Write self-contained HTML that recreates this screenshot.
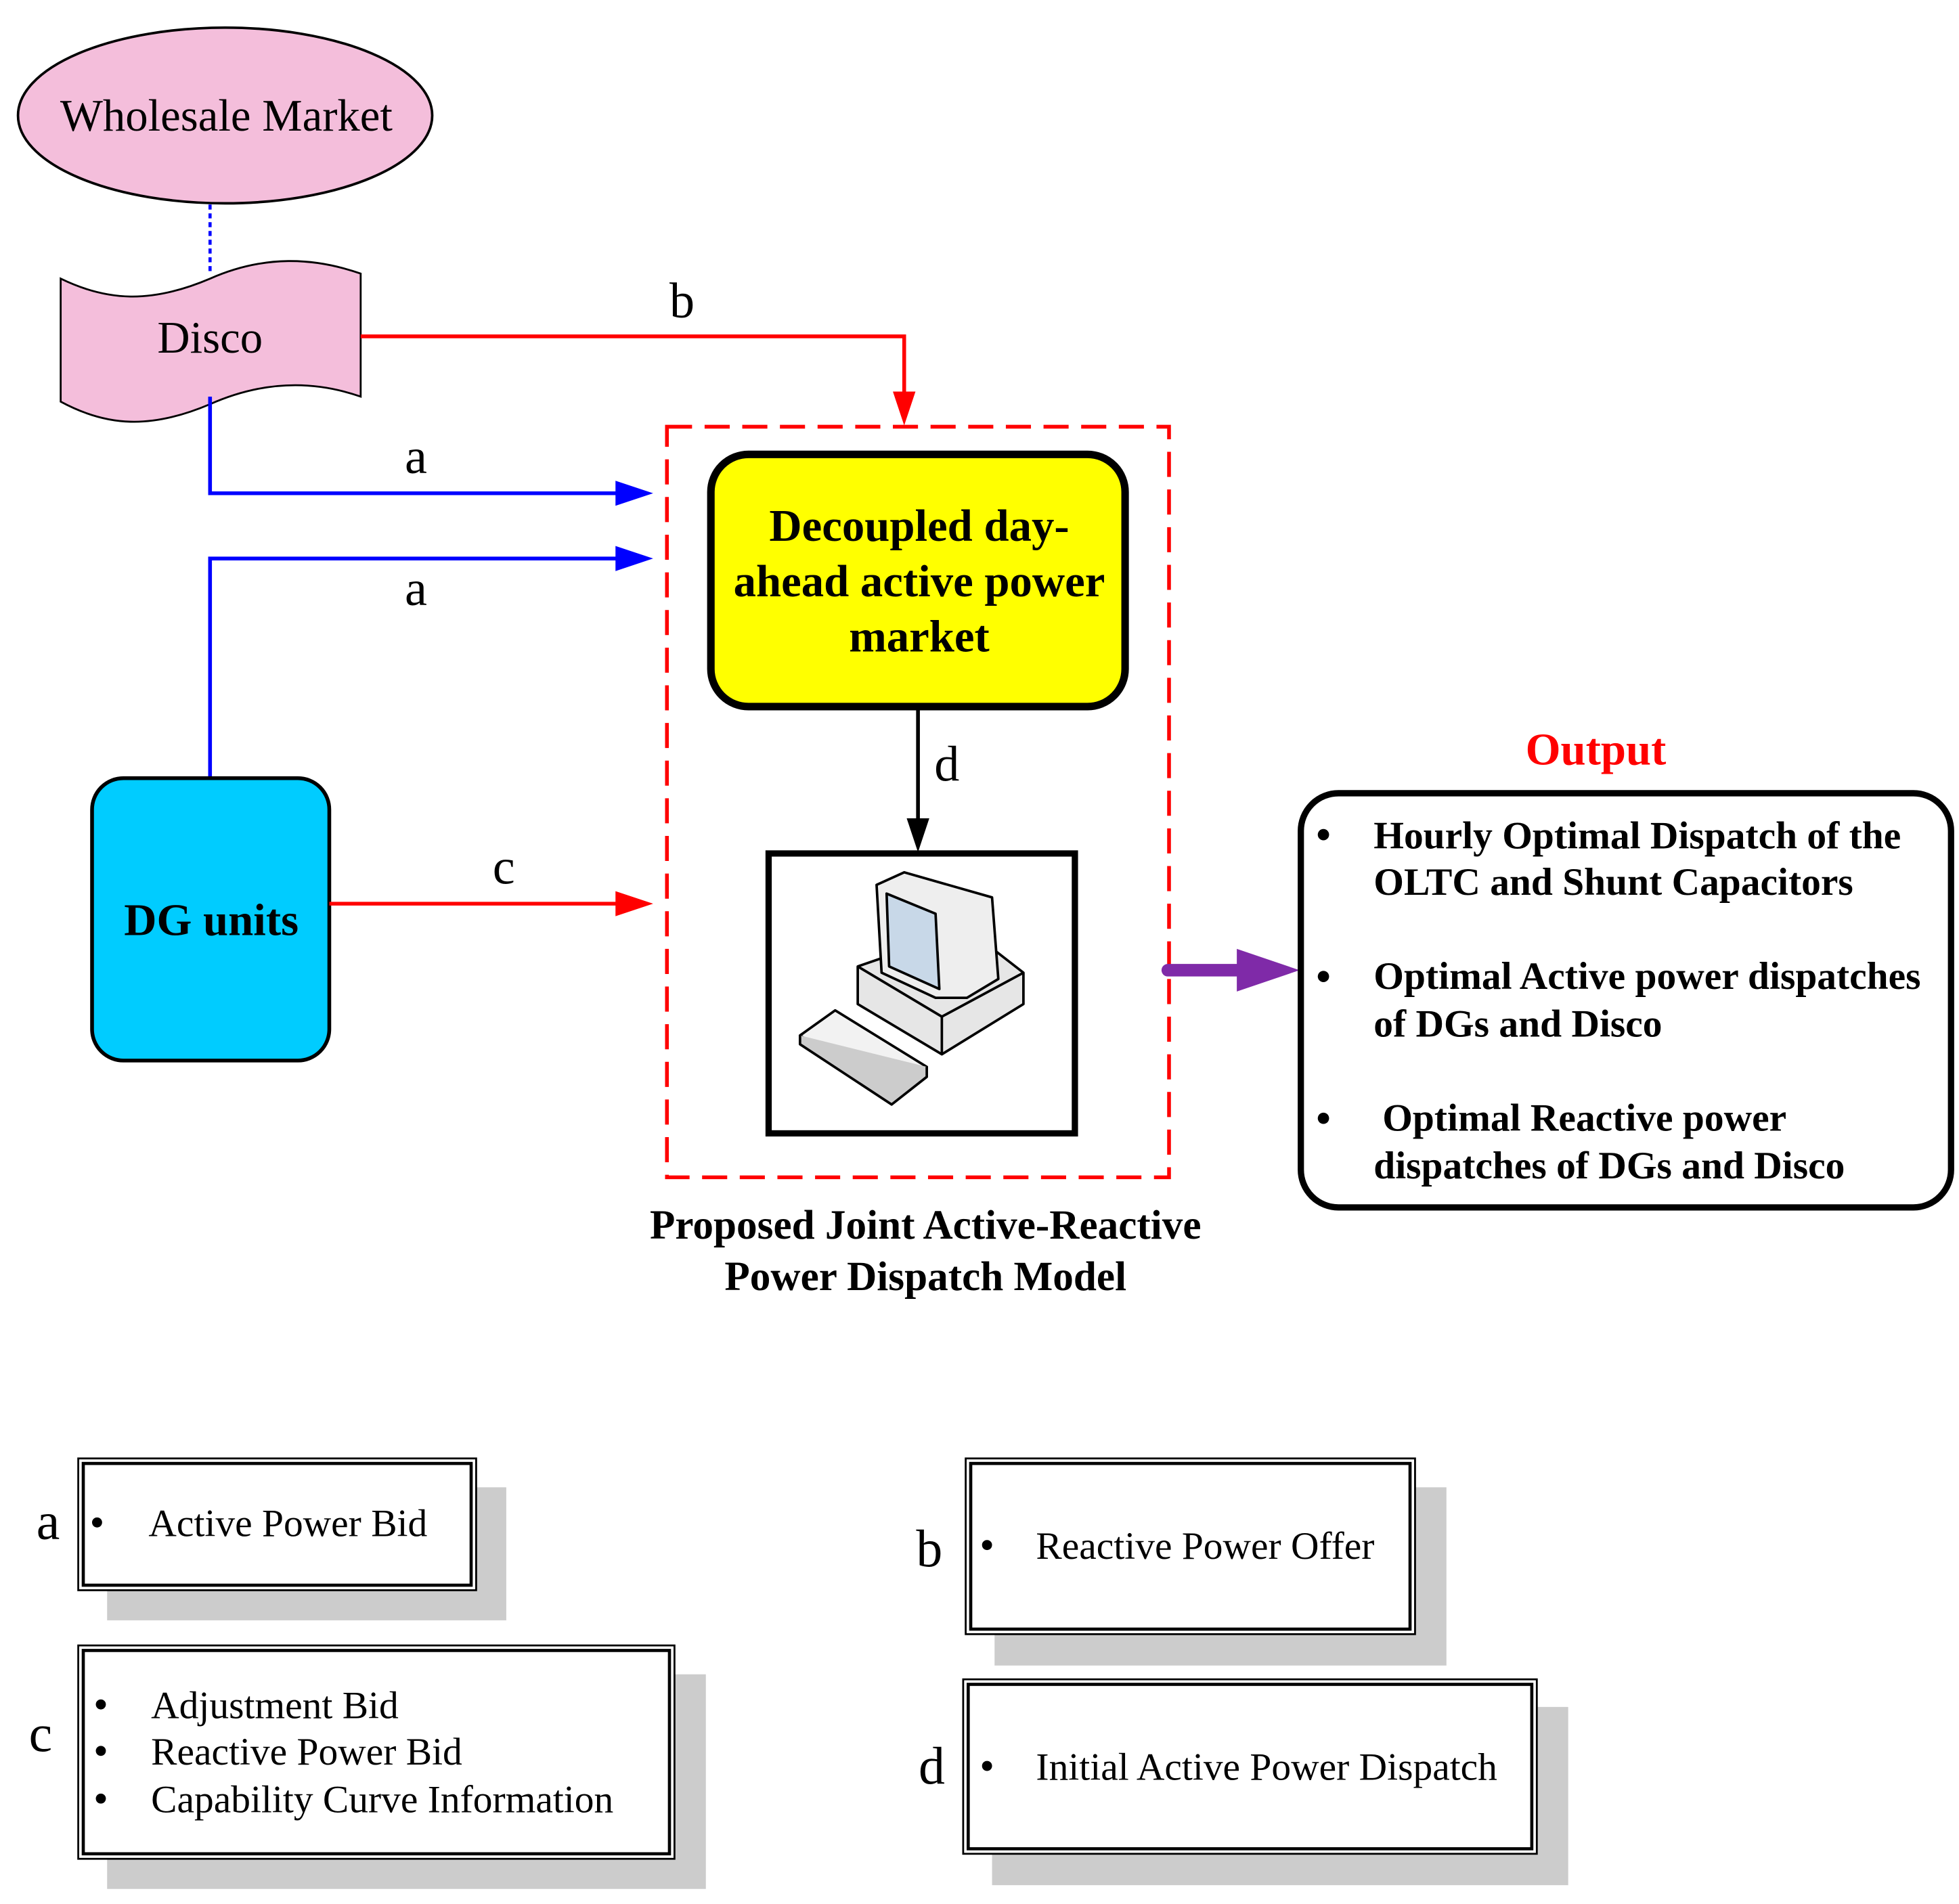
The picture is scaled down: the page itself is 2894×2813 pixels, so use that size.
<!DOCTYPE html>
<html><head><meta charset="utf-8"><style>html,body{margin:0;padding:0;background:#fff}svg{display:block}svg text{font-family:"Liberation Serif","Times New Roman",serif}</style></head>
<body>
<svg width="2894" height="2813" viewBox="0 0 1560 1517" xmlns="http://www.w3.org/2000/svg">
<rect width="1560" height="1517" fill="#fff"/>
<ellipse cx="179" cy="92" rx="165" ry="70" fill="#F4BEDB" stroke="#000" stroke-width="2"/>
<text x="180" y="104" font-size="36" text-anchor="middle">Wholesale Market</text>
<line x1="167" y1="163" x2="167" y2="218" stroke="#0000ff" stroke-width="2.5" stroke-dasharray="4,3"/>
<path d="M48,222 C85,240 120,242 167,222 C210,203 250,205 287,218 L287,316 C250,303 210,303 167,322 C120,342 85,340 48,320 Z" fill="#F4BEDB" stroke="#000" stroke-width="1.5"/>
<text x="167" y="281" font-size="36" text-anchor="middle">Disco</text>
<polyline points="287,268 720,268 720,318" fill="none" stroke="#ff0000" stroke-width="3"/>
<path d="M711,312 L729,312 L720,339 Z" fill="#ff0000"/>
<text x="543" y="253" font-size="40" text-anchor="middle">b</text>
<polyline points="167,316 167,393 495,393" fill="none" stroke="#0000ff" stroke-width="3"/>
<path d="M490,383 L520,393 L490,403 Z" fill="#0000ff"/>
<text x="331" y="377" font-size="40" text-anchor="middle">a</text>
<polyline points="167,620 167,445 495,445" fill="none" stroke="#0000ff" stroke-width="3"/>
<path d="M490,435 L520,445 L490,455 Z" fill="#0000ff"/>
<text x="331" y="482" font-size="40" text-anchor="middle">a</text>
<rect x="73" y="620" width="189" height="225" rx="25" fill="#00CCFF" stroke="#000" stroke-width="3"/>
<text x="168" y="745" font-size="36" font-weight="bold" text-anchor="middle">DG units</text>
<line x1="262" y1="720" x2="495" y2="720" stroke="#ff0000" stroke-width="3"/>
<path d="M490,710 L520,720 L490,730 Z" fill="#ff0000"/>
<text x="401" y="704" font-size="40" text-anchor="middle">c</text>
<rect x="531" y="340" width="400" height="598" fill="none" stroke="#ff0000" stroke-width="3" stroke-dasharray="20,10"/>
<rect x="566" y="362" width="330" height="201" rx="30" fill="#ffff00" stroke="#000" stroke-width="6"/>
<g font-size="36" font-weight="bold" text-anchor="middle">
<text x="732" y="431">Decoupled day-</text>
<text x="732" y="475">ahead active power</text>
<text x="732" y="519">market</text>
</g>
<line x1="731" y1="563" x2="731" y2="655" stroke="#000" stroke-width="3"/>
<path d="M722,652 L740,652 L731,679 Z" fill="#000"/>
<text x="754" y="622" font-size="40" text-anchor="middle">d</text>
<rect x="612" y="680" width="244" height="223" fill="#fff" stroke="#000" stroke-width="5"/>
<g stroke="#000" stroke-width="2" stroke-linejoin="round">
<path d="M683,770 L770,740 L815,775 L815,800 L750,840 L683,800 Z" fill="#e6e6e6"/>
<path d="M683,770 L750,810 L815,775" fill="none"/>
<path d="M750,810 L750,840" fill="none"/>
<path d="M698,705 L720,695 L790,715 L795,780 L770,795 L745,795 L702,775 Z" fill="#eeeeee"/>
<path d="M706,712 L745,728 L748,788 L708,770 Z" fill="#c8d8e8"/>
<path d="M637,825 L665,805 L738,850 L710,872 Z" fill="#f2f2f2"/>
<path d="M637,825 L637,832 L710,880 L738,858 L738,850" fill="#cccccc"/>
</g>
<line x1="930" y1="773" x2="990" y2="773" stroke="#7F2AA8" stroke-width="10" stroke-linecap="round"/>
<path d="M985,756 L1035,773 L985,790 Z" fill="#7F2AA8"/>
<text x="1271" y="609" font-size="36" font-weight="bold" fill="#ff0000" text-anchor="middle">Output</text>
<rect x="1036" y="632" width="518" height="330" rx="30" fill="#fff" stroke="#000" stroke-width="5"/>
<g font-size="31" font-weight="bold">
<circle cx="1054" cy="665" r="4.5"/><circle cx="1054" cy="778" r="4.5"/><circle cx="1054" cy="891" r="4.5"/>
<text x="1094" y="676">Hourly Optimal Dispatch of the</text>
<text x="1094" y="713">OLTC and Shunt Capacitors</text>
<text x="1094" y="788">Optimal Active power dispatches</text>
<text x="1094" y="826">of DGs and Disco</text>
<text x="1101" y="901">Optimal Reactive power</text>
<text x="1094" y="939">dispatches of DGs and Disco</text>
</g>
<g font-size="33" font-weight="bold" text-anchor="middle">
<text x="737" y="987">Proposed Joint Active-Reactive</text>
<text x="737" y="1028">Power Dispatch Model</text>
</g>
<rect x="85" y="1185" width="318" height="106" fill="#cccccc"/>
<rect x="62" y="1162" width="317" height="105" fill="#fff" stroke="#000" stroke-width="1.5"/>
<rect x="66" y="1166" width="309" height="97" fill="none" stroke="#000" stroke-width="2.5"/>
<text x="38" y="1226" font-size="42" text-anchor="middle">a</text>
<circle cx="77" cy="1213" r="4"/>
<text x="118" y="1224" font-size="31">Active Power Bid</text>
<rect x="85" y="1334" width="477" height="171" fill="#cccccc"/>
<rect x="62" y="1311" width="475" height="170" fill="#fff" stroke="#000" stroke-width="1.5"/>
<rect x="66" y="1315" width="467" height="162" fill="none" stroke="#000" stroke-width="2.5"/>
<text x="32" y="1395" font-size="42" text-anchor="middle">c</text>
<circle cx="80" cy="1358" r="4"/><circle cx="80" cy="1395" r="4"/><circle cx="80" cy="1433" r="4"/>
<g font-size="31">
<text x="120" y="1369">Adjustment Bid</text>
<text x="120" y="1406">Reactive Power Bid</text>
<text x="120" y="1444">Capability Curve Information</text>
</g>
<rect x="792" y="1185" width="360" height="142" fill="#cccccc"/>
<rect x="769" y="1162" width="358" height="140" fill="#fff" stroke="#000" stroke-width="1.5"/>
<rect x="773" y="1166" width="350" height="132" fill="none" stroke="#000" stroke-width="2.5"/>
<text x="740" y="1248" font-size="42" text-anchor="middle">b</text>
<circle cx="786" cy="1231" r="4"/>
<text x="825" y="1242" font-size="31">Reactive Power Offer</text>
<rect x="790" y="1360" width="459" height="142" fill="#cccccc"/>
<rect x="767" y="1338" width="457" height="139" fill="#fff" stroke="#000" stroke-width="1.5"/>
<rect x="771" y="1342" width="449" height="131" fill="none" stroke="#000" stroke-width="2.5"/>
<text x="742" y="1421" font-size="42" text-anchor="middle">d</text>
<circle cx="786" cy="1407" r="4"/>
<text x="825" y="1418" font-size="31">Initial Active Power Dispatch</text>
</svg>
</body></html>
